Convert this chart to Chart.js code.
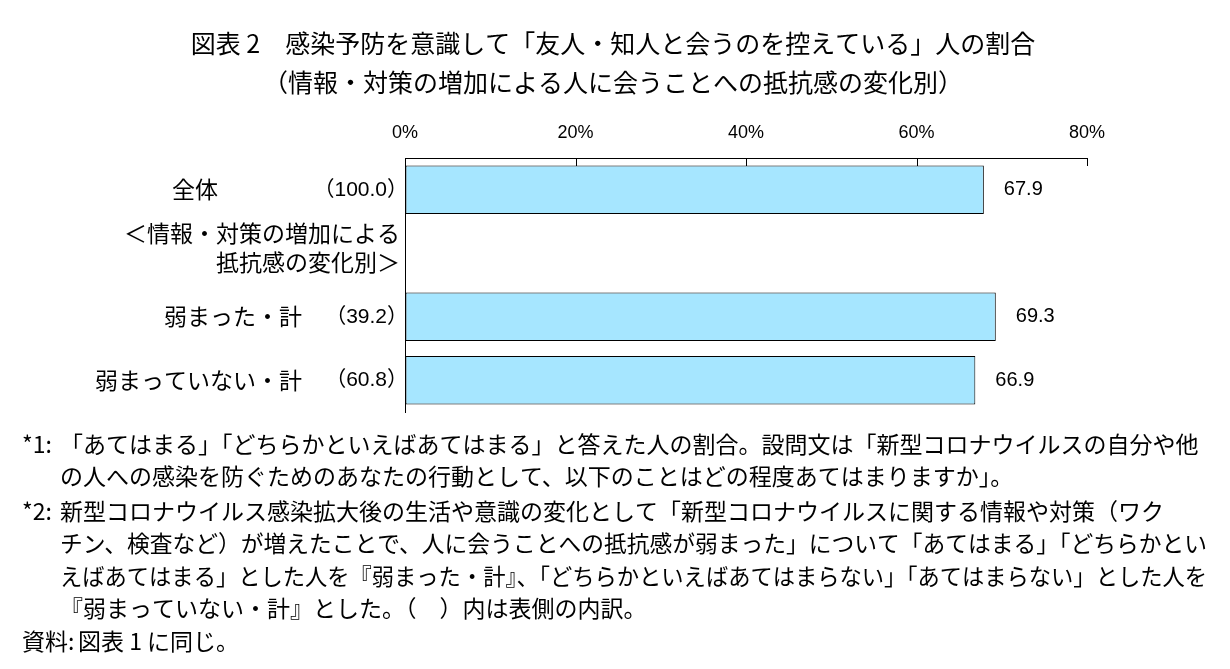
<!DOCTYPE html>
<html>
<head>
<meta charset="utf-8">
<script src="https://cdn.jsdelivr.net/npm/chart.js@4"></script>
<style>
  html, body { margin: 0; padding: 0; background: #fff; }
  #wrap { width: 1230px; height: 669px; }
</style>
</head>
<body>
<div id="wrap"><canvas id="shareChart" width="1230" height="669"></canvas></div>
<script>
const titleLines = [
    '図表 2　感染予防を意識して「友人・知人と会うのを控えている」人の割合',
    '（情報・対策の増加による人に会うことへの抵抗感の変化別）'
];
const categories = ['全体', '＜情報・対策の増加による\n抵抗感の変化別＞', '弱まった・計', '弱まっていない・計'];
const sampleShares = ['（100.0）', '', '（39.2）', '（60.8）'];
const values = [67.9, null, 69.3, 66.9];
const xTicks = [0, 20, 40, 60, 80];
const notes = [
    ['*1:', '「あてはまる」「どちらかといえばあてはまる」と答えた人の割合。設問文は「新型コロナウイルスの自分や他'],
    ['', 'の人への感染を防ぐためのあなたの行動として、以下のことはどの程度あてはまりますか」。'],
    ['*2:', '新型コロナウイルス感染拡大後の生活や意識の変化として「新型コロナウイルスに関する情報や対策（ワク'],
    ['', 'チン、検査など）が増えたことで、人に会うことへの抵抗感が弱まった」について「あてはまる」「どちらかとい'],
    ['', 'えばあてはまる」とした人を『弱まった・計』、「どちらかといえばあてはまらない」「あてはまらない」とした人を'],
    ['', '『弱まっていない・計』とした。（　）内は表側の内訳。'],
    ['資料:', '図表 1 に同じ。']
];

const jp = '"Noto Sans CJK JP", "Noto Sans", sans-serif';
const num = '"Liberation Sans", "Noto Sans CJK JP", Arial, sans-serif';

// draws title, row labels, value labels, tick marks and notes
const extras = {
    id: 'extras',
    afterDatasetsDraw(chart) {
        const c = chart.ctx;
        const x = chart.scales.x;
        const y = chart.scales.y;
        c.save();
        c.fillStyle = '#000';
        c.strokeStyle = '#000';
        c.lineWidth = 1;

        // inner tick marks hanging from the top axis
        xTicks.forEach(v => {
            const px = Math.round(x.getPixelForValue(v)) + 0.5;
            c.beginPath();
            c.moveTo(px, chart.chartArea.top);
            c.lineTo(px, chart.chartArea.top + 8);
            c.stroke();
        });

        // title
        c.textAlign = 'center';
        c.textBaseline = 'middle';
        c.font = '25px ' + jp;
        c.fillText(titleLines[0], 613, 43, 860);
        c.fillText(titleLines[1], 613, 82, 860);

        // category labels
        categories.forEach((cat, i) => {
            const cy = y.getPixelForValue(i);
            if (sampleShares[i] === '') {
                const parts = cat.split('\n');
                c.textAlign = 'right';
                c.font = '23px ' + jp;
                c.fillText(parts[0], 400, cy - 20);
                c.fillText(parts[1], 400, cy + 9);
                return;
            }
            c.font = '23px ' + jp;
            const w = c.measureText(cat).width;
            c.textAlign = 'left';
            c.fillText(cat, Math.min(172, 302 - w), cy);
            c.textAlign = 'right';
            c.font = '21px ' + num;
            c.fillText(sampleShares[i], 408, cy);
        });

        // value labels
        c.textAlign = 'left';
        c.font = '20px "Liberation Sans", Arial, sans-serif';
        values.forEach((v, i) => {
            if (v === null) return;
            c.fillText(v.toFixed(1), x.getPixelForValue(v) + 20, y.getPixelForValue(i));
        });

        // notes
        c.font = '23px ' + jp;
        notes.forEach((n, i) => {
            const ly = [444, 476, 511, 543, 576, 608, 641][i];
            c.textAlign = 'left';
            if (n[0]) c.fillText(n[0], 22, ly);
            const tx = n[0] === '資料:' ? 78 : 60;
            c.fillText(n[1], tx, ly, 1207 - tx);
        });
        c.restore();
    }
};

const ctx = document.getElementById('shareChart').getContext('2d');

const barChart = new Chart(ctx, {
    type: 'bar',
    data: {
        labels: categories,
        datasets: [{
            data: values,
            backgroundColor: '#a6e6ff',
            borderColor: '#000',
            borderWidth: 1,
            borderSkipped: false,
            barPercentage: 0.76,
            categoryPercentage: 1
        }]
    },
    options: {
        indexAxis: 'y',
        responsive: false,
        animation: false,
        layout: { padding: { left: 0, top: 0, right: 143, bottom: 257 } },
        plugins: {
            legend: { display: false },
            title: { display: false },
            tooltip: { enabled: false }
        },
        scales: {
            x: {
                position: 'top',
                min: 0,
                max: 80,
                afterFit(scale) { scale.height = 158; },
                afterBuildTicks(scale) { scale.ticks = xTicks.map(v => ({ value: v })); },
                grid: { drawOnChartArea: false, drawTicks: false },
                border: { display: true, color: '#000', width: 1 },
                ticks: {
                    padding: 14,
                    color: '#000',
                    font: { family: '"Liberation Sans Narrow", "Liberation Sans", Arial, sans-serif', size: 18 },
                    callback: v => v + '%'
                }
            },
            y: {
                afterFit(scale) { scale.width = 405; },
                grid: { display: false, drawTicks: false },
                border: { display: true, color: '#000', width: 1 },
                ticks: { display: false }
            }
        }
    },
    plugins: [extras]
});
</script>
</body>
</html>
